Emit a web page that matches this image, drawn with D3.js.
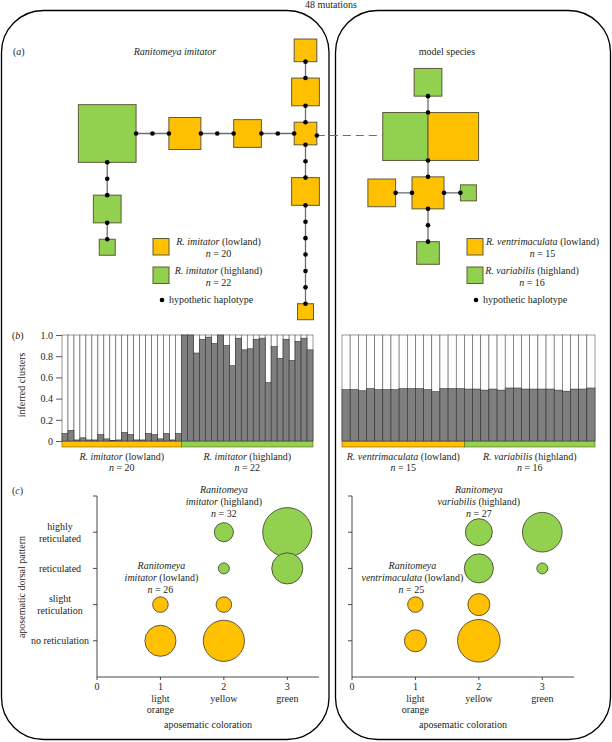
<!DOCTYPE html>
<html><head><meta charset="utf-8">
<script src="https://cdnjs.cloudflare.com/ajax/libs/d3/7.8.5/d3.min.js"></script>
<style>
body{margin:0;background:#fff}
svg{display:block}
text{font-family:"Liberation Serif","Times New Roman",serif;font-size:10px;fill:#231f20}
.it{font-style:italic}
</style>
</head><body>
<svg id="c" width="612" height="742"></svg>
<script>
// ---------------- DATA ----------------
// (a) haplotype networks: counts per haplotype, parent link, direction, number of hypothetic haplotypes on the link
const imitatorHaplotypes = [
  {id:"L0", group:"low",  count:2},
  {id:"L1", group:"low",  count:3,  parent:"L0", dir:"up",    mids:0},
  {id:"L2", group:"low",  count:2,  parent:"L1", dir:"up",    mids:0},
  {id:"L3", group:"low",  count:3,  parent:"L0", dir:"left",  mids:1},
  {id:"L4", group:"low",  count:4,  parent:"L3", dir:"left",  mids:1},
  {id:"H0", group:"high", count:13, parent:"L4", dir:"left",  mids:1},
  {id:"H1", group:"high", count:3,  parent:"H0", dir:"down",  mids:1},
  {id:"H2", group:"high", count:1,  parent:"H1", dir:"down",  mids:0},
  {id:"L5", group:"low",  count:3,  parent:"L0", dir:"down",  mids:1},
  {id:"L6", group:"low",  count:1,  parent:"L5", dir:"down",  mids:5}
];
const modelHaplotypes = [
  {id:"S0", parts:[{group:"high", count:8},{group:"low", count:10}]},
  {id:"S1", group:"high", count:3, parent:"S0", dir:"up",    mids:0},
  {id:"S2", group:"low",  count:4, parent:"S0", dir:"down",  mids:0},
  {id:"S3", group:"low",  count:3, parent:"S2", dir:"left",  mids:0},
  {id:"S4", group:"high", count:1, parent:"S2", dir:"right", mids:0},
  {id:"S5", group:"high", count:2, parent:"S2", dir:"down",  mids:1}
];
const betweenLabel = "48 mutations";

// (b) inferred cluster membership (dark cluster proportion)
const imitatorLowland  = [0.07,0.10,0.01,0.03,0.01,0.01,0.06,0.02,0.005,0.01,0.08,0.06,0.01,0.01,0.07,0.06,0.02,0.07,0.01,0.07];
const imitatorHighland = [1.0,1.0,0.83,0.96,0.98,0.92,1.0,0.90,0.71,0.97,0.86,0.87,0.96,0.97,0.55,0.89,0.78,0.96,0.76,0.94,0.97,0.86];
const ventriLowland    = [0.484,0.484,0.474,0.494,0.484,0.484,0.484,0.494,0.494,0.494,0.484,0.465,0.494,0.494,0.494];
const variabilisHighland = [0.49,0.49,0.48,0.49,0.48,0.50,0.50,0.49,0.49,0.49,0.49,0.48,0.47,0.49,0.49,0.50];
const clusterTicks = [0,0.2,0.4,0.6,0.8,1.0];

// (c) phenotype counts: x = coloration (1..3), y = dorsal pattern (1..4), n = individuals
const colorationLabels = [["0"],["1","light","orange"],["2","yellow"],["3","green"]];
const patternLabels = [["no reticulation"],["slight","reticulation"],["reticulated"],["highly","reticulated"]];
const imitatorLowPheno  = [{x:1,y:1,n:8},{x:2,y:1,n:14},{x:1,y:2,n:2},{x:2,y:2,n:2}];
const imitatorHighPheno = [{x:2,y:3,n:1},{x:2,y:4,n:3},{x:3,y:4,n:20},{x:3,y:3,n:8}];
const modelLowPheno  = [{x:1,y:1,n:4},{x:2,y:1,n:15},{x:1,y:2,n:2},{x:2,y:2,n:4}];
const modelHighPheno = [{x:2,y:3,n:7},{x:2,y:4,n:6},{x:3,y:4,n:13},{x:3,y:3,n:1}];

// ---------------- DRAW ----------------
const ORANGE="#FFC000", GREEN="#92D050";
const colorOf = g => g==="low" ? ORANGE : GREEN;
const SQ_STROKE = "#5e5a3c";
const svg = d3.select("#c");

// frames
svg.append("rect").attr("x",1.5).attr("y",10.5).attr("width",327.5).attr("height",729)
  .attr("rx",42).attr("fill","none").attr("stroke","#000").attr("stroke-width",1.3);
svg.append("rect").attr("x",335.5).attr("y",10.5).attr("width",275).attr("height",729)
  .attr("rx",42).attr("fill","none").attr("stroke","#000").attr("stroke-width",1.3);

function multiText(g, x, y, parts, anchor){
  const t = g.append("text").attr("x",x).attr("y",y).attr("text-anchor",anchor||"middle");
  parts.forEach(p=>{ t.append("tspan").attr("class", p[1]?"it":null).text(p[0]); });
  return t;
}

// ---- panel (a)
const stepScale = d3.scaleLinear().domain([0,1]).range([0,16.4]);
const sideScale = d3.scaleSqrt().domain([0,1]).range([0,16]);
const dirs = {up:[0,-1,"t","b"], down:[0,1,"b","t"], left:[-1,0,"l","r"], right:[1,0,"r","l"]};

function drawNet(nodes, root){
  const byId = new Map(nodes.map(n=>[n.id,n]));
  nodes.forEach(n=>{
    if(n.parts){ const a=sideScale(n.parts[0].count), b=sideScale(n.parts[1].count);
      n.ext={l:a,r:b,t:(a+b)/4,b:(a+b)/4}; }
    else { const s=sideScale(n.count)/2; n.ext={l:s,r:s,t:s,b:s}; }
  });
  const links=[], dots=[];
  nodes.forEach(n=>{
    if(!n.parent){ n.x=root[0]; n.y=root[1]; return; }
    const p=byId.get(n.parent); const [dx,dy,pe,ce]=dirs[n.dir];
    const gap=stepScale(n.mids+1);
    const sx=p.x+dx*p.ext[pe], sy=p.y+dy*p.ext[pe];
    const ex=sx+dx*gap, ey=sy+dy*gap;
    n.x=ex+dx*n.ext[ce]; n.y=ey+dy*n.ext[ce];
    links.push([sx,sy,ex,ey]);
    d3.range(n.mids+2).forEach(i=>dots.push([sx+dx*stepScale(i), sy+dy*stepScale(i)]));
  });
  const g=svg.append("g");
  g.selectAll("line.l").data(links).join("line")
    .attr("x1",d=>d[0]).attr("y1",d=>d[1]).attr("x2",d=>d[2]).attr("y2",d=>d[3])
    .attr("stroke","#6e6e6e").attr("stroke-width",1.3);
  nodes.forEach(n=>{
    if(n.parts){
      const a=n.ext.l, b=n.ext.r, h=n.ext.t*2;
      g.append("rect").attr("x",n.x-a).attr("y",n.y-h/2).attr("width",a).attr("height",h)
        .attr("fill",colorOf(n.parts[0].group)).attr("stroke",SQ_STROKE).attr("stroke-width",1);
      g.append("rect").attr("x",n.x).attr("y",n.y-h/2).attr("width",b).attr("height",h)
        .attr("fill",colorOf(n.parts[1].group)).attr("stroke",SQ_STROKE).attr("stroke-width",1);
    } else {
      const s=sideScale(n.count);
      g.append("rect").attr("x",n.x-s/2).attr("y",n.y-s/2).attr("width",s).attr("height",s)
        .attr("fill",colorOf(n.group)).attr("stroke",SQ_STROKE).attr("stroke-width",1);
    }
  });
  g.selectAll("circle").data(dots).join("circle")
    .attr("cx",d=>d[0]).attr("cy",d=>d[1]).attr("r",2.3).attr("fill","#000");
  return byId;
}
const leftNet = drawNet(imitatorHaplotypes, [305.5,133.5]);
const rightNet = drawNet(modelHaplotypes, [428,136.5]);
{
  const a=leftNet.get("L0"), b=rightNet.get("S0");
  const y=(a.y+b.y)/2+0.5;
  svg.append("line").attr("x1",a.x+a.ext.r).attr("x2",b.x-b.ext.l).attr("y1",y).attr("y2",y)
    .attr("stroke","#6e6e6e").attr("stroke-width",1.2).attr("stroke-dasharray","8,5");
  svg.append("circle").attr("cx",a.x+a.ext.r).attr("cy",y).attr("r",2.3).attr("fill","#000");
  svg.append("text").attr("x",331).attr("y",8).attr("text-anchor","middle").text(betweenLabel);
}
function panelLetter(letter, x, y){
  multiText(svg, x, y, [["(",false],[letter,true],[")",false]], "start");
}
panelLetter("a", 13, 55);
svg.append("text").attr("x",175).attr("y",55).attr("text-anchor","middle").attr("class","it").text("Ranitomeya imitator");
svg.append("text").attr("x",447).attr("y",55).attr("text-anchor","middle").text("model species");

// legends
function legend(x, textX1, textX2, lowName, highName, nLow, nHigh){
  const g=svg.append("g");
  g.append("rect").attr("x",x).attr("y",238.5).attr("width",16).attr("height",16.5).attr("fill",ORANGE).attr("stroke",SQ_STROKE);
  g.append("rect").attr("x",x).attr("y",267).attr("width",16).attr("height",16.5).attr("fill",GREEN).attr("stroke",SQ_STROKE);
  multiText(g,textX1,244.5,[[lowName,true],[" (lowland)",false]]);
  multiText(g,textX1,256.5,[["n",true],[" = "+nLow,false]]);
  multiText(g,textX2,274,[[highName,true],[" (highland)",false]]);
  multiText(g,textX2,286,[["n",true],[" = "+nHigh,false]]);
  g.append("circle").attr("cx",x+9).attr("cy",300).attr("r",2.3).attr("fill","#000");
  g.append("text").attr("x",x+16).attr("y",303).text("hypothetic haplotype");
}
legend(153, 218.5, 218.5, "R. imitator", "R. imitator", 20, 22);
legend(467, 542.5, 532, "R. ventrimaculata", "R. variabilis", 15, 16);

// ---- panel (b)
const yB = d3.scaleLinear().domain([0,1]).range([441,335]);
function barChart(groups, x0, x1){
  const all = groups.flatMap(g=>g.values.map(v=>({v, group:g.group})));
  const x = d3.scaleBand().domain(d3.range(all.length)).range([x0,x1]).padding(0);
  const g = svg.append("g");
  g.selectAll("rect.w").data(all).join("rect")
    .attr("x",(d,i)=>x(i)).attr("width",x.bandwidth()).attr("y",yB(1)).attr("height",yB(0)-yB(1))
    .attr("fill","#fff").attr("stroke","#555").attr("stroke-width",0.6);
  g.selectAll("rect.d").data(all).join("rect")
    .attr("x",(d,i)=>x(i)).attr("width",x.bandwidth()).attr("y",d=>yB(d.v)).attr("height",d=>yB(0)-yB(d.v))
    .attr("fill","#7f7f7f").attr("stroke","#333").attr("stroke-width",0.6);
  let start=0;
  groups.forEach(gr=>{
    const n=gr.values.length;
    const xa=x(start), xb=x(start+n-1)+x.bandwidth();
    g.append("rect").attr("x",xa).attr("y",441.5).attr("width",xb-xa).attr("height",5.5)
      .attr("fill",colorOf(gr.group)).attr("stroke","#6b5a1a").attr("stroke-width",0.6);
    multiText(g,(xa+xb)/2,460,[[gr.name,true],[gr.group==="low"?" (lowland)":" (highland)",false]]);
    multiText(g,(xa+xb)/2,471,[["n",true],[" = "+n,false]]);
    start+=n;
  });
  return x;
}
barChart([{values:imitatorLowland,group:"low",name:"R. imitator"},
          {values:imitatorHighland,group:"high",name:"R. imitator"}], 62, 313);
barChart([{values:ventriLowland,group:"low",name:"R. ventrimaculata"},
          {values:variabilisHighland,group:"high",name:"R. variabilis"}], 342, 595);
const axB = svg.append("g").attr("transform","translate(62,0)")
  .call(d3.axisLeft(yB).tickValues(clusterTicks).tickSize(6).tickPadding(3)
    .tickFormat(d=>d===0?"0":d3.format(".1f")(d)));
axB.select(".domain").remove();
axB.selectAll(".tick line").attr("stroke","#333").attr("stroke-width",0.8);
axB.selectAll(".tick text").style("font-size","10px");
svg.append("text").attr("transform","translate(25,385) rotate(-90)").attr("text-anchor","middle").text("inferred clusters");
panelLetter("b", 12, 339);

// ---- panel (c)
const yC = d3.scaleLinear().domain([0,5]).range([677,496]);
const rC = d3.scaleSqrt().domain([0,1]).range([0,5.5]);
function bubblePanel(x0, lowData, highData, showY, lowLabel, highLabel){
  const x = d3.scaleLinear().domain([0,3.5]).range([x0, x0+222]);
  const g = svg.append("g");
  g.append("line").attr("x1",x(0)).attr("x2",x(0)).attr("y1",yC(5)).attr("y2",yC(0)).attr("stroke","#333").attr("stroke-width",0.9);
  g.append("line").attr("x1",x(0)).attr("x2",x(3.5)).attr("y1",yC(0)).attr("y2",yC(0)).attr("stroke","#333").attr("stroke-width",0.9);
  d3.range(1,6).forEach(v=>g.append("line").attr("x1",x(0)-4).attr("x2",x(0)).attr("y1",yC(v)).attr("y2",yC(v)).attr("stroke","#333").attr("stroke-width",0.9));
  colorationLabels.forEach((lines,i)=>{
    g.append("line").attr("x1",x(i)).attr("x2",x(i)).attr("y1",yC(0)).attr("y2",yC(0)+3).attr("stroke","#333").attr("stroke-width",0.9);
    const t=g.append("text").attr("text-anchor","middle");
    lines.forEach((l,j)=>t.append("tspan").attr("x",x(i)).attr("y",yC(0)+13+j*11.7).text(l));
  });
  g.append("text").attr("x",x(1.75)).attr("y",728).attr("text-anchor","middle").text("aposematic coloration");
  if(showY){
    patternLabels.forEach((lines,i)=>{
      const t=g.append("text").attr("text-anchor","middle");
      const y0=yC(i+1)+3.5-(lines.length-1)*6;
      lines.forEach((l,j)=>t.append("tspan").attr("x",60).attr("y",y0+j*12).text(l));
    });
  }
  const circ = (data, grp)=> g.selectAll(null).data(data).join("circle")
    .attr("cx",d=>x(d.x)).attr("cy",d=>yC(d.y)).attr("r",d=>rC(d.n))
    .attr("fill",colorOf(grp)).attr("stroke","#3a3a2a").attr("stroke-width",0.8);
  circ(lowData,"low"); circ(highData,"high");
  const nL=d3.sum(lowData,d=>d.n), nH=d3.sum(highData,d=>d.n);
  multiText(g,x(2),yC(4)-39,[["Ranitomeya",true]]);
  multiText(g,x(2),yC(4)-27,[[highLabel,true],[" (highland)",false]]);
  multiText(g,x(2),yC(4)-15,[["n",true],[" = "+nH,false]]);
  const lx = x(1)+ (showY?1:-3);
  multiText(g,lx,yC(3)+1,[["Ranitomeya",true]]);
  multiText(g,lx,yC(3)+13,[[lowLabel,true],[" (lowland)",false]]);
  multiText(g,lx-1,yC(3)+25,[["n",true],[" = "+nL,false]]);
}
bubblePanel(97, imitatorLowPheno, imitatorHighPheno, true, "imitator", "imitator");
bubblePanel(352, modelLowPheno, modelHighPheno, false, "ventrimaculata", "variabilis");
svg.append("text").attr("transform","translate(25,587) rotate(-90)").attr("text-anchor","middle").text("aposematic dorsal pattern");
panelLetter("c", 12, 494);
</script>
</body></html>
